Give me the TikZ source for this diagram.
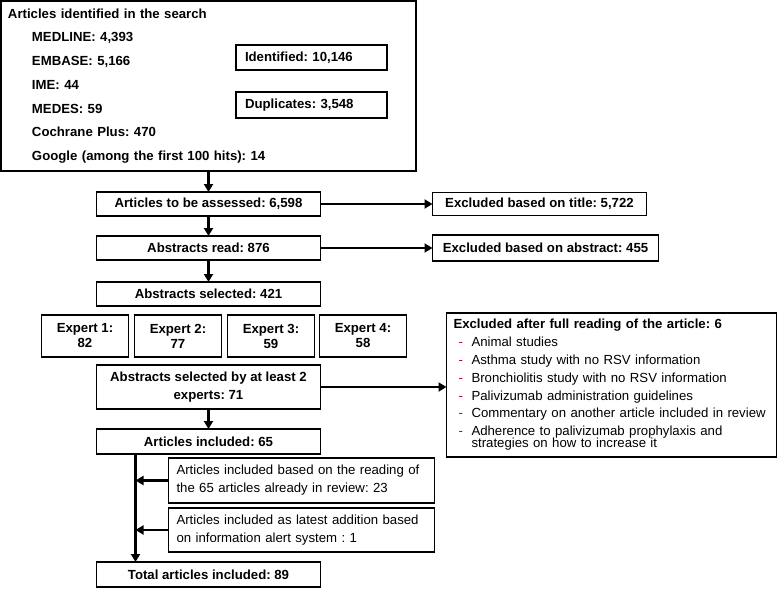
\documentclass[tikz,border=0pt]{standalone}
\usepackage{fontspec}
\setmainfont{Liberation Sans}
\usepackage{xcolor}
\usepackage{tikz}
\usetikzlibrary{arrows.meta, positioning, calc}
\definecolor{dashRed}{RGB}{204, 0, 51}
\tikzstyle{arrow} = [line width=2.4pt,->,>={Triangle[length=8pt,width=9pt]}]
\tikzstyle{basic} = [rectangle, draw=black, line width=1.5pt, inner sep=0pt, outer sep=0pt, align=center, fill=white, font=\fontsize{13.2pt}{17.5pt}\selectfont\bfseries]
\tikzstyle{plain} = [rectangle, draw=black, line width=1.5pt, inner sep=0pt, outer sep=0pt, inner xsep=8pt, align=left, fill=white, font=\fontsize{13.2pt}{18pt}\selectfont]
\newcommand{\exitem}{\makebox[18pt][l]{\hspace*{5pt}\textcolor{dashRed}{-}}}
\frenchspacing

\begin{document}
\begin{tikzpicture}[x=1pt, y=1pt]
\useasboundingbox (0,0) rectangle (780,-589);

\node (search) [basic, anchor=north west, text width=401pt, inner xsep=7pt, minimum height=170pt, align=left, font=\fontsize{13.2pt}{23.7pt}\selectfont\bfseries] at (1,-1) {Articles identified in the search\\
\hspace*{24pt}MEDLINE: 4,393\\
\hspace*{24pt}EMBASE: 5,166\\
\hspace*{24pt}IME: 44\\
\hspace*{24pt}MEDES: 59\\
\hspace*{24pt}Cochrane Plus: 470\\
\hspace*{24pt}Google (among the first 100 hits): 14};
\node (identified) [basic, anchor=north west, xshift=235pt, yshift=-44pt, minimum height=25pt, text width=133pt, inner xsep=9pt, align=left] at (search.north west) {Identified: 10,146};
\node (duplicates) [basic, anchor=north west, yshift=-22pt, minimum height=26pt, text width=133pt, inner xsep=9pt, align=left] at (identified.south west) {Duplicates: 3,548};

\node (assess) [basic, minimum width=224pt, minimum height=24pt, anchor=north, yshift=-21pt] at (search.south) {Articles to be assessed: 6,598};
\node (ttlexcl) [basic, minimum width=214pt, minimum height=23pt, anchor=west, xshift=112pt] at (assess.east) {Excluded based on title: 5,722};
\node (absread) [basic, minimum width=224pt, minimum height=24pt, anchor=north, yshift=-20pt] at (assess.south) {Abstracts read: 876};
\node (absexcl) [basic, minimum width=226pt, minimum height=26pt, anchor=west, xshift=112pt] at (absread.east) {Excluded based on abstract: 455};
\node (abssel) [basic, minimum width=224pt, minimum height=24pt, anchor=north, yshift=-22pt] at (absread.south) {Abstracts selected: 421};

\node (expert2) [basic, minimum width=87pt, minimum height=42pt, anchor=north east, xshift=13pt, yshift=-9pt, font=\fontsize{13.2pt}{15pt}\selectfont\bfseries] at (abssel.south) {Expert 2:\\77};
\node (expert1) [basic, minimum width=87pt, minimum height=42pt, anchor=north east, xshift=-6pt, font=\fontsize{13.2pt}{15pt}\selectfont\bfseries] at (expert2.north west) {Expert 1:\\82};
\node (expert3) [basic, minimum width=87pt, minimum height=42pt, anchor=north west, xshift=6pt, font=\fontsize{13.2pt}{15pt}\selectfont\bfseries] at (expert2.north east) {Expert 3:\\59};
\node (expert4) [basic, minimum width=87pt, minimum height=42pt, anchor=north west, xshift=5pt, font=\fontsize{13.2pt}{15pt}\selectfont\bfseries] at (expert3.north east) {Expert 4:\\58};

\node (atleast2) [basic, minimum width=224pt, minimum height=44pt, anchor=north, yshift=-8pt] at (abssel.south |- expert2.south) {Abstracts selected by at least 2\\experts: 71};
\node (fullexcl) [plain, anchor=west, xshift=126pt, yshift=2pt, minimum height=144pt, text width=316pt, inner xsep=7pt, font=\fontsize{13.2pt}{17.8pt}\selectfont] at (atleast2.east) {\textbf{Excluded after full reading of the article: 6}\\
\exitem Animal studies\\
\exitem Asthma study with no RSV information\\
\exitem Bronchiolitis study with no RSV information\\
\exitem Palivizumab administration guidelines\\
\exitem Commentary on another article included in review\\
\exitem Adherence to palivizumab prophylaxis and\\[-5.5pt]
\hspace*{18pt}strategies on how to increase it};

\node (incl65) [basic, minimum width=224pt, minimum height=25pt, anchor=north, yshift=-20pt] at (atleast2.south) {Articles included: 65};
\node (readref) [plain, anchor=north west, xshift=72pt, yshift=-4pt, text width=250pt, minimum height=45pt] at (incl65.south west) {Articles included based on the reading of\\the 65 articles already in review: 23};
\node (latest) [plain, anchor=north west, yshift=-5pt, text width=250pt, minimum height=44pt] at (readref.south west) {Articles included as latest addition based\\on information alert system : 1};
\node (total) [basic, minimum width=224pt, minimum height=25pt, anchor=north, yshift=-108pt] at (incl65.south) {Total articles included: 89};

\draw [arrow] (search.south) -- (assess.north);
\draw [arrow] (assess.south) -- (absread.north);
\draw [arrow] (absread.south) -- (abssel.north);
\draw [arrow] (assess.east) -- (ttlexcl.west);
\draw [arrow] (absread.east) -- (absexcl.west);
\draw [arrow] (atleast2.south) -- (incl65.north);
\draw [arrow] (atleast2.east) -- (atleast2.east -| fullexcl.west);

\coordinate (trunk) at ($(incl65.south west)+(39pt,0)$);
\draw [arrow] (trunk) -- (trunk |- total.north);
\draw [arrow] (readref.west) -- (readref.west -| trunk);
\draw [arrow] (latest.west) -- (latest.west -| trunk);

\end{tikzpicture}
\end{document}
